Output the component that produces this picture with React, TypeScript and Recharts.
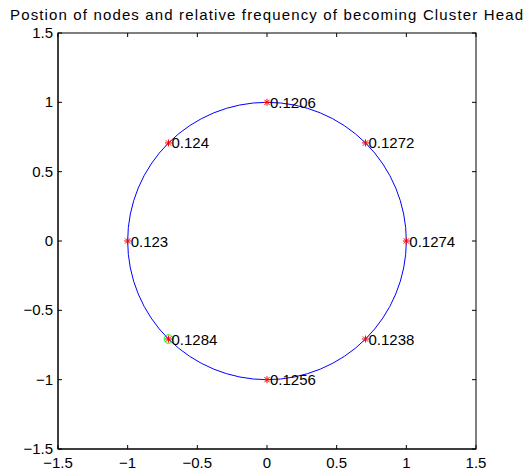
import React from 'react';
import { ScatterChart, Scatter, XAxis, YAxis, ReferenceArea, ReferenceDot } from 'recharts';

const nodeX = [1, 0.7071, 0, -0.7071, -1, -0.7071, 0, 0.7071];
const nodeY = [0, 0.7071, 1, 0.7071, 0, -0.7071, -1, -0.7071];
const freqLabels = ['0.1274', '0.1272', '0.1206', '0.124', '0.123', '0.1284', '0.1256', '0.1238'];
const headX = [-0.7071];
const headY = [-0.7071];
const axisTicks = [-1.5, -1, -0.5, 0, 0.5, 1, 1.5];
const axisMin = -1.5;
const axisMax = 1.5;
const circleBounds = { x1: -1, x2: 1, y1: -1, y2: 1 };
const title = 'Postion of nodes and relative frequency of becoming Cluster Head';

const nodes = nodeX.map((x, i) => ({ x, y: nodeY[i], label: freqLabels[i] }));
const heads = headX.map((x, i) => ({ x, y: headY[i] }));

const FONT = '"Liberation Sans", Arial, Helvetica, sans-serif';
const fmt = (v: number) => (v < 0 ? '\u2212' + String(Math.abs(v)) : String(v));

const BottomTick = (p: any) => (
  <g>
    <line x1={p.x} y1={p.y} x2={p.x} y2={p.y - 4} stroke="#000" />
    <text x={p.x} y={p.y + 19} textAnchor="middle" fontSize={15} fontFamily={FONT} fill="#000">
      {fmt(p.payload.value)}
    </text>
  </g>
);
const LeftTick = (p: any) => (
  <g>
    <line x1={p.x} y1={p.y} x2={p.x + 4} y2={p.y} stroke="#000" />
    <text x={p.x - 5} y={p.y + 5} textAnchor="end" fontSize={15} fontFamily={FONT} fill="#000">
      {fmt(p.payload.value)}
    </text>
  </g>
);
const TopTickShape = (p: any) => (
  <line x1={p.cx} y1={p.cy} x2={p.cx} y2={p.cy + 4} stroke="#000" />
);
const RightTickShape = (p: any) => (
  <line x1={p.cx} y1={p.cy} x2={p.cx - 4} y2={p.cy} stroke="#000" />
);

const CircleShape = (p: any) => {
  const { x, y, width, height } = p;
  return (
    <ellipse
      cx={x + width / 2}
      cy={y + height / 2}
      rx={Math.abs(width) / 2}
      ry={Math.abs(height) / 2}
      fill="none"
      stroke="#0000ff"
      strokeWidth={1}
    />
  );
};

const FrameShape = (p: any) => (
  <rect x={p.x} y={p.y} width={p.width} height={p.height} fill="none" stroke="#000" strokeWidth={1} />
);

const NodeShape = (p: any) => {
  const { cx, cy, payload } = p;
  const r = 3.5;
  const d = 2.6;
  return (
    <g>
      <g stroke="#ff0000" strokeWidth={1}>
        <line x1={cx - r} y1={cy} x2={cx + r} y2={cy} />
        <line x1={cx} y1={cy - r} x2={cx} y2={cy + r} />
        <line x1={cx - d} y1={cy - d} x2={cx + d} y2={cy + d} />
        <line x1={cx - d} y1={cy + d} x2={cx + d} y2={cy - d} />
      </g>
      <text x={cx + 3} y={cy + 5.5} fontSize={15} fontFamily={FONT} fill="#000">
        {payload.label}
      </text>
    </g>
  );
};

const HeadShape = (p: any) => (
  <circle cx={p.cx} cy={p.cy} r={4.3} fill="none" stroke="#00ff00" strokeWidth={1} />
);

export default function App() {
  return (
    <div style={{ position: 'absolute', left: 0, top: 0, width: 528, height: 474, background: '#fff' }}>
      <ScatterChart width={528} height={474} margin={{ top: 33, right: 52, bottom: 0, left: 0 }}>
        <XAxis
          type="number"
          dataKey="x"
          domain={[axisMin, axisMax]}
          ticks={axisTicks}
          height={25}
          tickSize={0}
          tickMargin={0}
          tick={BottomTick}
          axisLine={{ stroke: '#000' }}
          tickLine={false}
          allowDataOverflow
        />
        <YAxis
          type="number"
          dataKey="y"
          domain={[axisMin, axisMax]}
          ticks={axisTicks}
          width={58}
          tickSize={0}
          tickMargin={0}
          tick={LeftTick}
          axisLine={{ stroke: '#000' }}
          tickLine={false}
          allowDataOverflow
        />
        <ReferenceArea
          x1={axisMin}
          x2={axisMax}
          y1={axisMin}
          y2={axisMax}
          shape={FrameShape}
          ifOverflow="visible"
        />
        {axisTicks.map((t) => (
          <ReferenceDot key={'top' + t} x={t} y={axisMax} shape={TopTickShape} ifOverflow="visible" />
        ))}
        {axisTicks.map((t) => (
          <ReferenceDot key={'right' + t} x={axisMax} y={t} shape={RightTickShape} ifOverflow="visible" />
        ))}
        <ReferenceArea
          x1={circleBounds.x1}
          x2={circleBounds.x2}
          y1={circleBounds.y1}
          y2={circleBounds.y2}
          shape={CircleShape}
        />
        <Scatter data={heads} shape={HeadShape} isAnimationActive={false} />
        <Scatter data={nodes} shape={NodeShape} isAnimationActive={false} />
      </ScatterChart>
      <svg
        width={528}
        height={30}
        style={{ position: 'absolute', left: 0, top: 0, pointerEvents: 'none' }}
      >
        <text
          x={10}
          y={19.5}
          textLength={513}
          lengthAdjust="spacing"
          fontSize={15}
          fontFamily={FONT}
          fill="#000"
        >
          {title}
        </text>
      </svg>
    </div>
  );
}
